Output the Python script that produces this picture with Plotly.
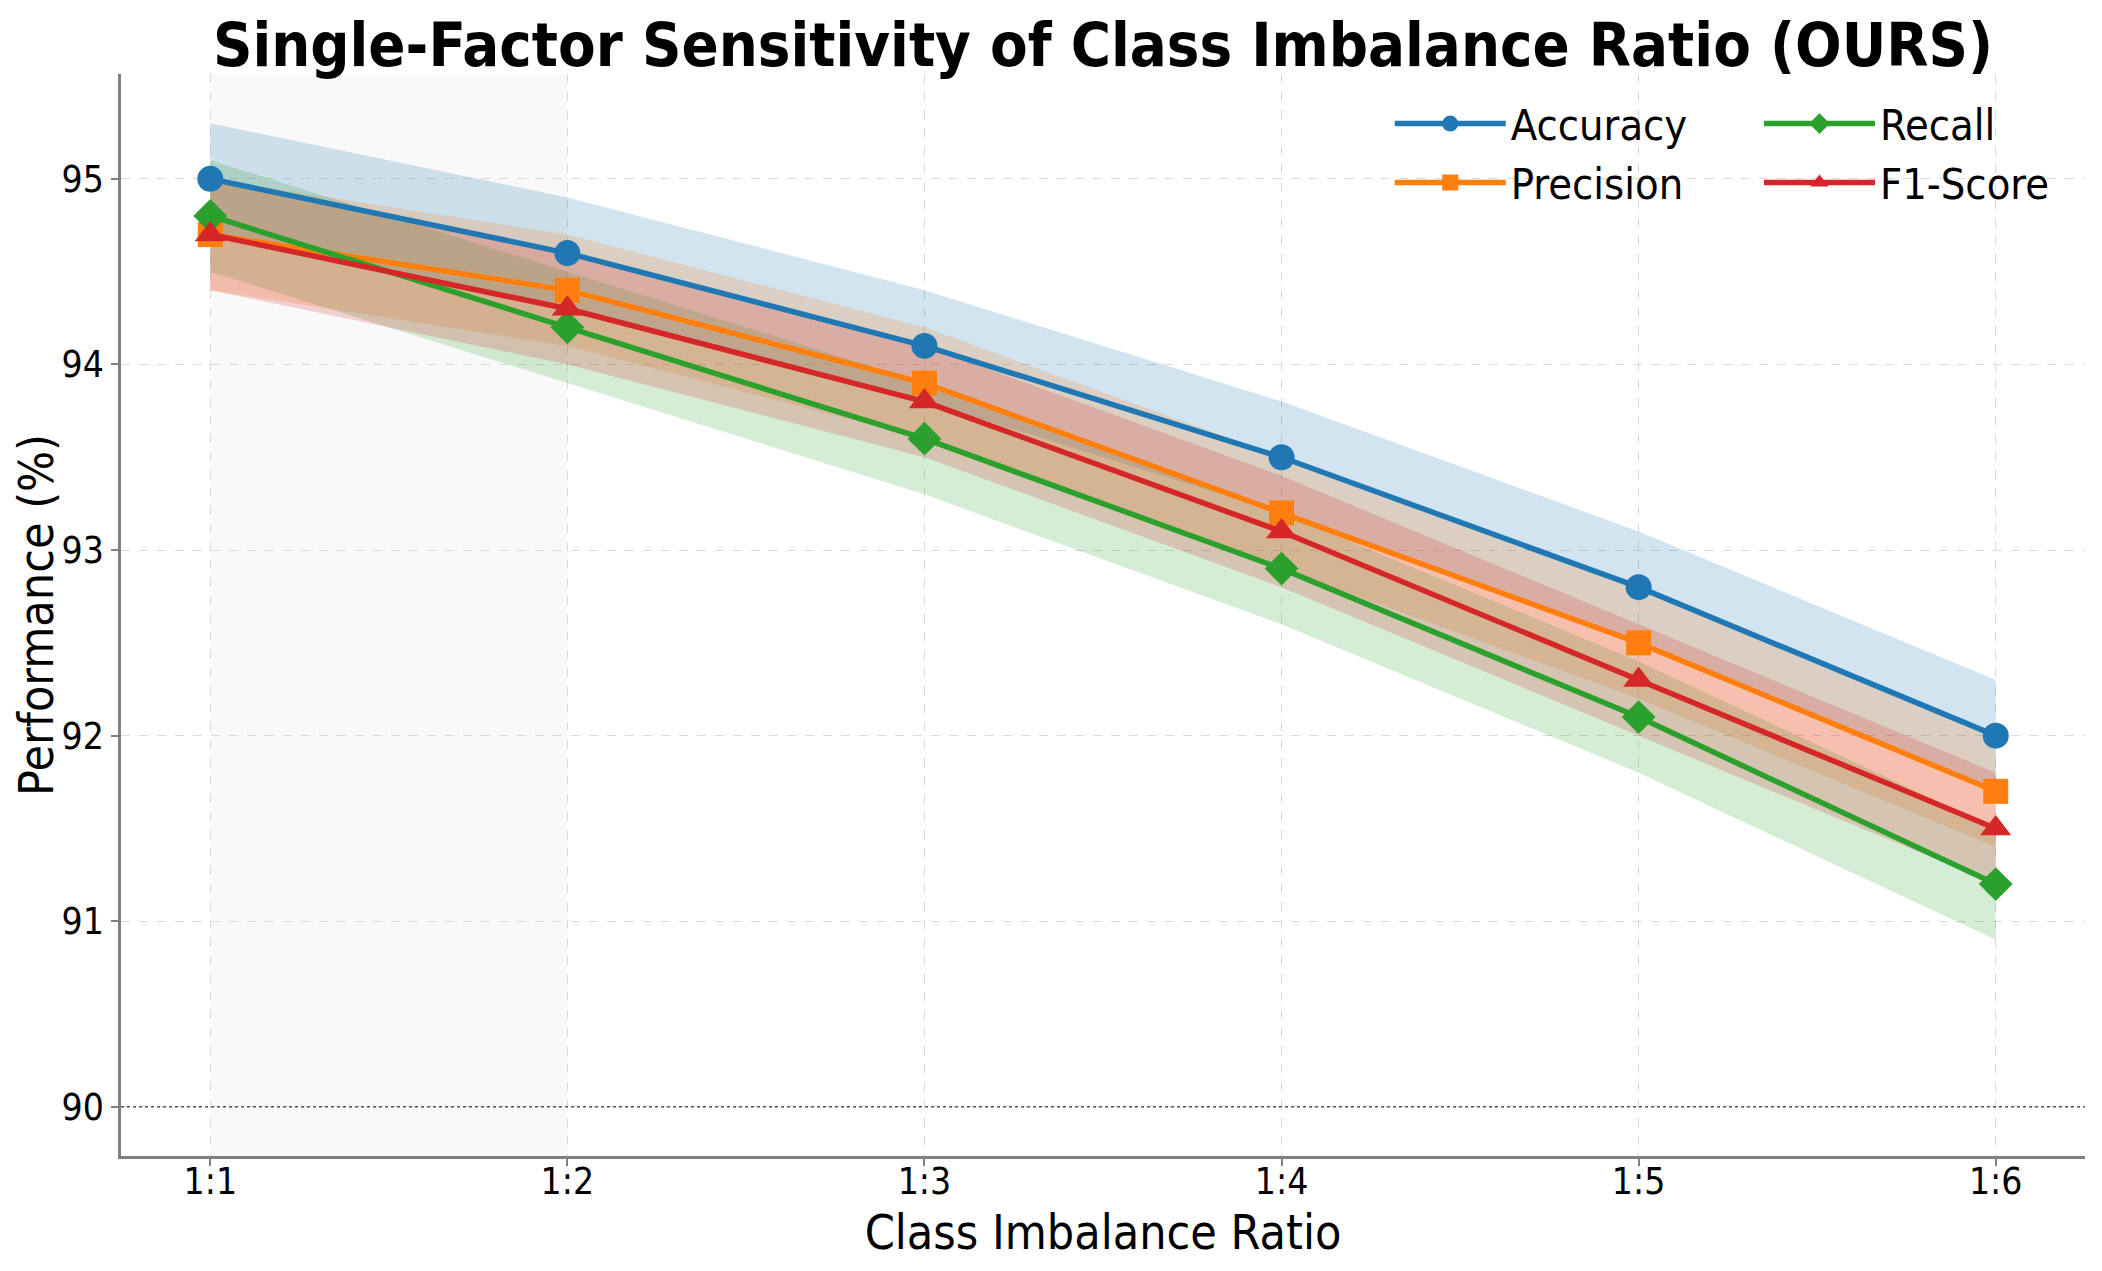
import plotly.graph_objects as go

categories = ["1:1", "1:2", "1:3", "1:4", "1:5", "1:6"]
accuracy = [95.0, 94.6, 94.1, 93.5, 92.8, 92.0]
precision = [94.7, 94.4, 93.9, 93.2, 92.5, 91.7]
recall = [94.8, 94.2, 93.6, 92.9, 92.1, 91.2]
f1_score = [94.7, 94.3, 93.8, 93.1, 92.3, 91.5]
accuracy_std = [0.3, 0.3, 0.3, 0.3, 0.3, 0.3]
precision_std = [0.3, 0.3, 0.3, 0.3, 0.3, 0.3]
recall_std = [0.3, 0.3, 0.3, 0.3, 0.3, 0.3]
f1_std = [0.3, 0.3, 0.3, 0.3, 0.3, 0.3]
y_ticks = [90, 91, 92, 93, 94, 95]
baseline = 90
highlight_range = ["1:1", "1:2"]

series = [
    ("Accuracy", accuracy, accuracy_std, "#1f77b4", "circle", 26, "legend"),
    ("Precision", precision, precision_std, "#ff7f0e", "square", 25, "legend"),
    ("Recall", recall, recall_std, "#2ca02c", "diamond", 26, "legend2"),
    ("F1-Score", f1_score, f1_std, "#d62728", "triangle-up", 27, "legend2"),
]

def rgba(hexc, a):
    h = hexc.lstrip("#")
    return f"rgba({int(h[0:2],16)},{int(h[2:4],16)},{int(h[4:6],16)},{a})"

xi = list(range(len(categories)))
fig = go.Figure()

# shaded +/- std bands
for name, vals, std, col, sym, ms, lg in series:
    upper = [v + s for v, s in zip(vals, std)]
    lower = [v - s for v, s in zip(vals, std)]
    fig.add_trace(go.Scatter(
        x=xi + xi[::-1], y=upper + lower[::-1],
        fill="toself", fillcolor=rgba(col, 0.2), line=dict(width=0),
        mode="lines", showlegend=False, hoverinfo="skip"))

# main lines
for name, vals, std, col, sym, ms, lg in series:
    fig.add_trace(go.Scatter(
        x=xi, y=vals, mode="lines+markers", name=name,
        line=dict(color=col, width=5.5),
        marker=dict(symbol=sym, size=ms, color=col),
        legend=lg, legendgroup=name))

x0 = categories.index(highlight_range[0])
x1 = categories.index(highlight_range[1])
fig.add_vrect(x0=x0, x1=x1, fillcolor="#f9f9f9", line_width=0, layer="below", opacity=1)
fig.add_hline(y=baseline, line=dict(color="#555555", width=1.5, dash="dot"), layer="above")

font = "DejaVu Sans Condensed, DejaVu Sans"
W, H = 2086, 1255
fig.update_layout(
    width=W, height=H,
    margin=dict(l=113, r=9, t=66, b=107, autoexpand=False),
    paper_bgcolor="white", plot_bgcolor="white",
    font=dict(family=font, color="#000000", size=37),
    title=dict(text="<b>Single-Factor Sensitivity of Class Imbalance Ratio (OURS)</b>",
               x=0.5, xref="paper", xanchor="center", y=0.971, yref="container", yanchor="middle",
               font=dict(family=font, size=61, color="#000000")),
    legend=dict(x=0.646, y=0.986, xanchor="left", yanchor="top", bgcolor="rgba(0,0,0,0)",
                font=dict(size=43, family=font), itemwidth=111, tracegroupgap=0, itemsizing="trace"),
    legend2=dict(x=0.834, y=0.986, xanchor="left", yanchor="top", bgcolor="rgba(0,0,0,0)",
                 font=dict(size=43, family=font), itemwidth=111, tracegroupgap=0, itemsizing="trace"),
    xaxis=dict(range=[-0.25, 5.25], tickvals=xi, ticktext=categories, automargin=False,
               showline=True, linecolor="#808080", linewidth=2.5,
               ticks="outside", ticklen=7, tickwidth=2, tickcolor="#808080",
               tickfont=dict(size=37, family=font), ticklabelstandoff=-16,
               showgrid=True, gridcolor="#d9d9d9", gridwidth=1.3, griddash="dash",
               zeroline=False, mirror=False,
               title=dict(text="Class Imbalance Ratio", font=dict(size=48, family=font), standoff=14)),
    yaxis=dict(range=[89.735, 95.565], tickvals=y_ticks, automargin=False,
               showline=True, linecolor="#808080", linewidth=2.5,
               ticks="outside", ticklen=7, tickwidth=2, tickcolor="#808080",
               tickfont=dict(size=37, family=font),
               showgrid=True, gridcolor="#d9d9d9", gridwidth=1.3, griddash="dash",
               zeroline=False, mirror=False,
               title=dict(text="Performance (%)", font=dict(size=48, family=font), standoff=17)),
)

fig.write_html("out.html")
